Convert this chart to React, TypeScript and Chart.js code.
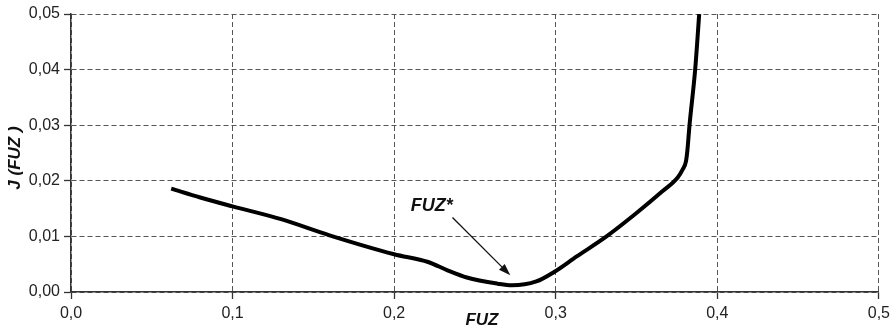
import { useEffect, useRef } from "react";
import { Chart, registerables } from "chart.js";

Chart.register(...registerables);

// Objective J as a function of FUZ
const fuzValues = [
  0.062, 0.08, 0.1, 0.13, 0.16, 0.2, 0.221, 0.233, 0.245, 0.264, 0.273,
  0.288, 0.299, 0.313, 0.331, 0.35, 0.366, 0.3755, 0.3785, 0.3806, 0.3815,
  0.3828, 0.3863, 0.3888,
];
const jValues = [
  0.0186, 0.017, 0.0154, 0.0131, 0.0102, 0.0068, 0.0054, 0.0039,
  0.0026, 0.0015, 0.0012, 0.0019, 0.0036, 0.0064, 0.0099, 0.0142, 0.0181,
  0.0206, 0.022, 0.0235, 0.0255, 0.03, 0.04, 0.05,
];

const xMin = 0;
const xMax = 0.5;
const xStep = 0.1;
const yMin = 0;
const yMax = 0.05;
const yStep = 0.01;

const xTitle = "FUZ";
const yTitle = "J (FUZ )";

// Optimum marker: label and arrow anchored in data units
const optimumLabel = "FUZ*";
const optimumLabelAt = { x: 0.2232, y: 0.0154 };
const optimumArrowFrom = { x: 0.2361, y: 0.0134 };
const optimumArrowTo = { x: 0.2719, y: 0.003 };

const FONT = '"Liberation Sans", Arial, Helvetica, sans-serif';

const overlayPlugin = {
  id: "overlay",
  afterDatasetsDraw(chart: any) {
    const { ctx, chartArea, scales } = chart;
    const x = scales.x;
    const y = scales.y;
    ctx.save();
    ctx.fillStyle = "#111";
    ctx.strokeStyle = "#111";
    ctx.textAlign = "center";
    ctx.textBaseline = "middle";

    // axis titles
    ctx.font = `italic bold 17px ${FONT}`;
    ctx.fillText(xTitle, (chartArea.left + chartArea.right) / 2 + 7, 320);
    ctx.save();
    ctx.translate(15, (chartArea.top + chartArea.bottom) / 2 + 5);
    ctx.rotate(-Math.PI / 2);
    ctx.fillText(yTitle, 0, 0);
    ctx.restore();

    // optimum label
    ctx.font = `italic bold 18px ${FONT}`;
    ctx.fillText(
      optimumLabel,
      x.getPixelForValue(optimumLabelAt.x),
      y.getPixelForValue(optimumLabelAt.y)
    );

    // arrow
    const x1 = x.getPixelForValue(optimumArrowFrom.x);
    const y1 = y.getPixelForValue(optimumArrowFrom.y);
    const x2 = x.getPixelForValue(optimumArrowTo.x);
    const y2 = y.getPixelForValue(optimumArrowTo.y);
    const ang = Math.atan2(y2 - y1, x2 - x1);
    const headLen = 12;
    const headHalf = 4;
    const bx = x2 - headLen * Math.cos(ang);
    const by = y2 - headLen * Math.sin(ang);
    ctx.lineWidth = 1.3;
    ctx.beginPath();
    ctx.moveTo(x1, y1);
    ctx.lineTo(bx, by);
    ctx.stroke();
    ctx.beginPath();
    ctx.moveTo(x2, y2);
    ctx.lineTo(bx + headHalf * Math.sin(ang), by - headHalf * Math.cos(ang));
    ctx.lineTo(bx - headHalf * Math.sin(ang), by + headHalf * Math.cos(ang));
    ctx.closePath();
    ctx.fill();
    ctx.restore();
  },
};

export default function App() {
  const canvasRef = useRef<HTMLCanvasElement | null>(null);

  useEffect(() => {
    document.body.style.margin = "0";
    document.body.style.background = "#fff";
    const canvas = canvasRef.current;
    if (!canvas) return;

    const gridCommon = {
      color: "#555",
      lineWidth: 1,
      tickLength: 7,
      tickColor: "#333",
      tickWidth: 1.3,
    };
    const borderCommon = {
      display: true,
      color: "#333",
      width: 1.5,
      dash: [5, 3],
    };

    const chart = new Chart(canvas, {
      type: "line",
      data: {
        datasets: [
          {
            data: fuzValues.map((v, i) => ({ x: v, y: jValues[i] })),
            borderColor: "#000",
            borderWidth: 4,
            pointRadius: 0,
            fill: false,
            cubicInterpolationMode: "monotone",
          },
        ],
      },
      options: {
        animation: false,
        responsive: false,
        layout: { padding: { top: 14, right: 11, left: 0, bottom: 0 } },
        plugins: {
          legend: { display: false },
          tooltip: { enabled: false },
        },
        scales: {
          x: {
            type: "linear",
            min: xMin,
            max: xMax,
            ticks: {
              stepSize: xStep,
              color: "#222",
              font: { family: FONT, size: 16 },
              padding: 5,
              maxRotation: 0,
              callback: (v: any) => Number(v).toFixed(1).replace(".", ","),
            },
            grid: gridCommon,
            border: borderCommon,
            afterFit: (s: any) => {
              s.height = 36;
            },
          },
          y: {
            type: "linear",
            min: yMin,
            max: yMax,
            ticks: {
              stepSize: yStep,
              color: "#222",
              font: { family: FONT, size: 16 },
              padding: 4,
              callback: (v: any) => Number(v).toFixed(2).replace(".", ","),
            },
            grid: gridCommon,
            border: borderCommon,
            afterFit: (s: any) => {
              s.width = 71;
            },
          },
        },
      } as any,
      plugins: [overlayPlugin],
    });

    return () => chart.destroy();
  }, []);

  return (
    <canvas
      ref={canvasRef}
      width={895}
      height={328}
      style={{ display: "block", width: 895, height: 328 }}
    />
  );
}
